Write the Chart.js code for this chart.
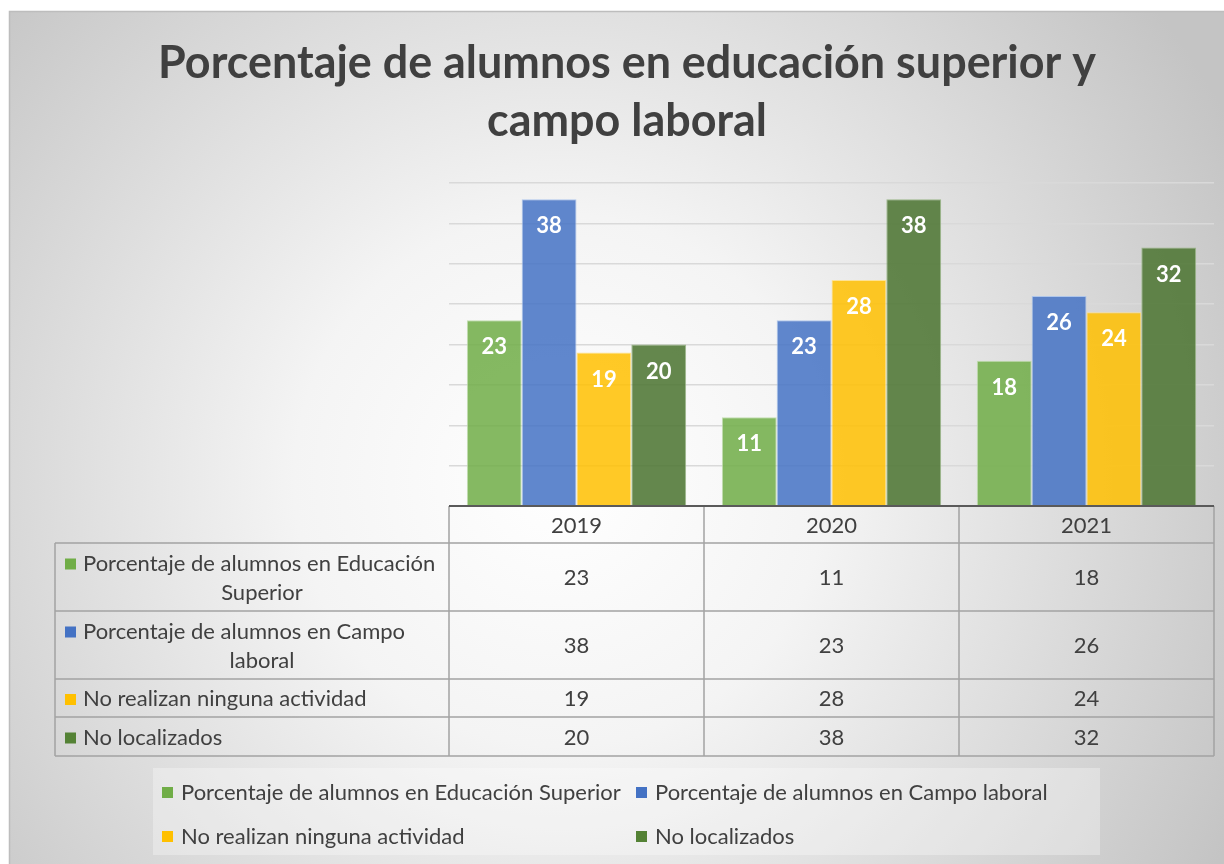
<!DOCTYPE html>
<html>
<head>
<meta charset="utf-8">
<script src="https://cdn.jsdelivr.net/npm/chart.js@4.4.1/dist/chart.umd.min.js"></script>
<style>
  html, body { margin: 0; padding: 0; background: #ffffff; }
  canvas { display: block; }
</style>
</head>
<body>
<canvas id="myChart" width="1224" height="864"></canvas>
<script>
const years = ['2019', '2020', '2021'];
const seriesNames = [
  'Porcentaje de alumnos en Educación Superior',
  'Porcentaje de alumnos en Campo laboral',
  'No realizan ninguna actividad',
  'No localizados'
];
const educacionSuperior = [23, 11, 18];
const campoLaboral = [38, 23, 26];
const ningunaActividad = [19, 28, 24];
const noLocalizados = [20, 38, 32];
const yMin = 0;
const yMax = 40;
const yStep = 5;
const titleLines = ['Porcentaje de alumnos en educación superior y', 'campo laboral'];

const FONT = 'Lato, "Open Sans", sans-serif';
const TEXT = '#404040';
const fills = ['rgba(112,173,71,0.85)', 'rgba(68,114,196,0.85)', 'rgba(255,192,0,0.85)', 'rgba(78,118,52,0.88)'];
const edges = ['rgba(190,220,170,0.9)', 'rgba(170,195,235,0.9)', 'rgba(255,225,140,0.9)', 'rgba(150,180,130,0.9)'];
const markers = ['#70ad47', '#4472c4', '#ffc000', '#548235'];

// table geometry below the plot (rows under the x axis)
const tableLeft = 55;
const headerH = 37;
const rowHeights = [68, 68, 38, 39];

function fitFont(ctx, text, weight, width) {
  ctx.font = weight + ' 100px ' + FONT;
  return 100 * width / ctx.measureText(text).width;
}

const background = {
  id: 'background',
  beforeDraw(chart) {
    const ctx = chart.ctx;
    ctx.save();
    ctx.fillStyle = '#ffffff';
    ctx.fillRect(0, 0, chart.width, chart.height);
    const g = ctx.createRadialGradient(560, 480, 0, 560, 480, 760);
    g.addColorStop(0, '#ffffff');
    g.addColorStop(0.35, '#f4f4f4');
    g.addColorStop(1, '#c4c4c4');
    ctx.fillStyle = g;
    ctx.fillRect(9, 11, chart.width - 9, chart.height - 11);
    ctx.strokeStyle = '#bdbdbd';
    ctx.lineWidth = 1.5;
    ctx.strokeRect(9.5, 11.5, chart.width, chart.height);
    ctx.restore();
  }
};

const decorations = {
  id: 'decorations',
  afterDatasetsDraw(chart) {
    const ctx = chart.ctx;
    ctx.save();
    // value labels inside bars
    ctx.fillStyle = '#ffffff';
    ctx.font = 'bold 22px ' + FONT;
    ctx.textAlign = 'center';
    ctx.textBaseline = 'middle';
    chart.data.datasets.forEach((ds, i) => {
      chart.getDatasetMeta(i).data.forEach((bar, j) => {
        ctx.fillText(String(ds.data[j]), bar.x, bar.y + 27);
      });
    });
    ctx.restore();
  },
  afterDraw(chart) {
    const ctx = chart.ctx;
    const area = chart.chartArea;
    const xs = chart.scales.x;
    const n = years.length;
    const colW = (area.right - area.left) / n;
    ctx.save();

    // title
    ctx.fillStyle = TEXT;
    ctx.textAlign = 'center';
    ctx.textBaseline = 'middle';
    const tSize = fitFont(ctx, titleLines[0], 'bold', 939);
    ctx.font = 'bold ' + tSize.toFixed(1) + 'px ' + FONT;
    ctx.fillText(titleLines[0], 627, 64);
    ctx.fillText(titleLines[1], 627, 122);

    // data table
    const top = area.bottom;
    const rowTops = [top + headerH];
    rowHeights.forEach(h => rowTops.push(rowTops[rowTops.length - 1] + h));
    const bottom = rowTops[rowTops.length - 1];

    ctx.strokeStyle = '#a3a3a3';
    ctx.lineWidth = 1.5;
    ctx.beginPath();
    for (let i = 0; i <= n; i++) {
      const x = area.left + i * colW;
      ctx.moveTo(x, top);
      ctx.lineTo(x, bottom);
    }
    ctx.moveTo(tableLeft, rowTops[0]);
    ctx.lineTo(tableLeft, bottom);
    rowTops.forEach(y => {
      ctx.moveTo(tableLeft, y);
      ctx.lineTo(area.right, y);
    });
    ctx.stroke();

    ctx.font = '22px ' + FONT;
    ctx.fillStyle = TEXT;
    ctx.textAlign = 'center';
    years.forEach((yr, i) => {
      ctx.fillText(yr, xs.getPixelForValue(i), top + headerH / 2 + 1);
    });
    chart.data.datasets.forEach((ds, r) => {
      const cy = rowTops[r] + rowHeights[r] / 2 + 1;
      ds.data.forEach((v, i) => {
        ctx.fillText(String(v), xs.getPixelForValue(i), cy);
      });
      // row header: marker + wrapped label
      const lines = r === 0 ? ['Porcentaje de alumnos en Educación', 'Superior']
                  : r === 1 ? ['Porcentaje de alumnos en Campo', 'laboral']
                  : [ds.label];
      const lh = 29;
      const y0 = cy - (lines.length - 1) * lh / 2;
      ctx.fillStyle = markers[r];
      ctx.fillRect(65, y0 - 5, 11, 11);
      ctx.fillStyle = TEXT;
      ctx.textAlign = 'left';
      ctx.fillText(lines[0], 83, y0);
      if (lines.length > 1) {
        ctx.textAlign = 'center';
        ctx.fillText(lines[1], 262, y0 + lh);
      }
      ctx.textAlign = 'center';
    });

    // axis line on top of the table header
    ctx.strokeStyle = '#5a5a5a';
    ctx.lineWidth = 2;
    ctx.beginPath();
    ctx.moveTo(area.left, top);
    ctx.lineTo(area.right, top);
    ctx.stroke();

    // legend
    ctx.fillStyle = 'rgba(255,255,255,0.3)';
    ctx.fillRect(153, 768, 947, 87);
    ctx.font = '22px ' + FONT;
    ctx.textAlign = 'left';
    const legendPos = [[162, 792], [636, 792], [162, 836], [636, 836]];
    seriesNames.forEach((name, i) => {
      const [lx, ly] = legendPos[i];
      ctx.fillStyle = markers[i];
      ctx.fillRect(lx, ly - 5, 11, 11);
      ctx.fillStyle = TEXT;
      ctx.fillText(name, lx + 19, ly + 1);
    });
    ctx.restore();
  }
};

const seriesValues = [educacionSuperior, campoLaboral, ningunaActividad, noLocalizados];

new Chart(document.getElementById('myChart'), {
  type: 'bar',
  data: {
    labels: years,
    datasets: seriesNames.map((name, i) => ({
      label: name,
      data: seriesValues[i],
      backgroundColor: fills[i],
      borderColor: edges[i],
      borderWidth: 1,
      categoryPercentage: 0.86,
      barPercentage: 1.0
    }))
  },
  options: {
    responsive: false,
    animation: false,
    layout: { padding: { left: 449, right: 10, top: 183, bottom: 358 } },
    plugins: {
      legend: { display: false },
      title: { display: false },
      tooltip: { enabled: false }
    },
    scales: {
      x: {
        display: false
      },
      y: {
        min: yMin,
        max: yMax,
        ticks: { display: false, stepSize: yStep },
        grid: { color: '#d9d9d9', lineWidth: 1.5, drawTicks: false },
        border: { display: false }
      }
    }
  },
  plugins: [background, decorations]
});
</script>
</body>
</html>
